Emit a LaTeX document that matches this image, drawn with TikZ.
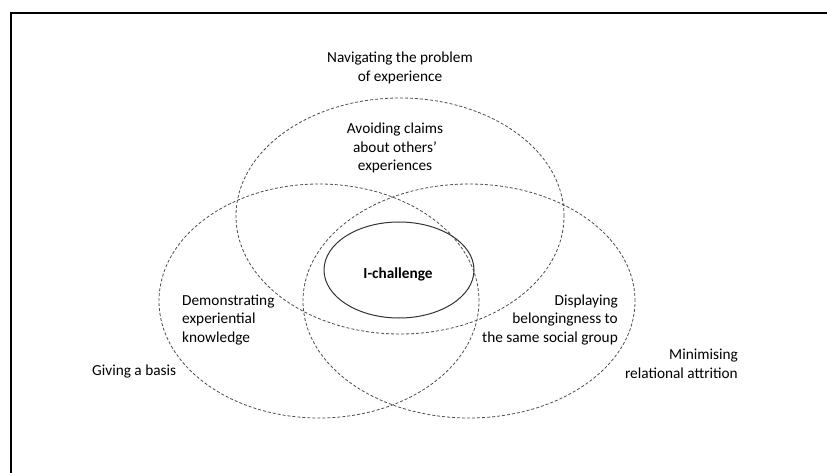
\documentclass[tikz,border=0pt]{standalone}
\usepackage{fontspec}
\setmainfont{Carlito}
\begin{document}
\begin{tikzpicture}[x=1pt,y=-1pt,
  lbl/.style={inner sep=0pt,font=\fontsize{15.3}{18.8}\selectfont},
  venn/.style={draw=black!70,line width=0.8pt,dash pattern=on 3pt off 2pt},
  core/.style={draw=black!80,line width=1pt}]
\useasboundingbox (0,0) rectangle (827,473);
% frame (top and left edges only)
\draw[line width=1.6pt] (11,473) -- (11,13) -- (827,13);
% ellipses
\draw[venn] (400,216) ellipse [x radius=164pt, y radius=118pt];
\draw[venn] (319,301) ellipse [x radius=160pt, y radius=117pt];
\draw[venn] (469,301) ellipse [x radius=166pt, y radius=117pt];
\draw[core] (399,270) ellipse [x radius=75pt, y radius=48pt];
% labels
\node[lbl,align=center] (nav) at (400,68) {Navigating the problem\\of experience};
\node[lbl,align=center] (avoid) at (395,148) {Avoiding claims\\about others’\\experiences};
\node[lbl,font=\fontsize{15.3}{18.8}\selectfont\bfseries] (ich) at (398,274) {I-challenge};
\node[lbl,align=left,anchor=west] (demo) at (182,320) {Demonstrating\\experiential\\knowledge};
\node[lbl,anchor=west] (basis) at (92,372) {Giving a basis};
\node[lbl,align=right,anchor=east] (disp) at (618,320) {Displaying\\belongingness to\\the same social group};
\node[lbl,align=right,anchor=east] (mini) at (738,364) {Minimising\\relational attrition};
\end{tikzpicture}
\end{document}
